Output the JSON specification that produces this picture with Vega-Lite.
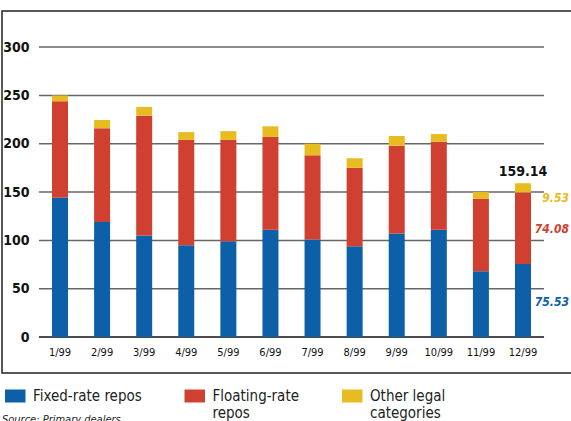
{
  "$schema": "https://vega.github.io/schema/vega-lite/v6.json",
  "width": 579,
  "height": 362,
  "autosize": {"type": "none"},
  "padding": {"left": 2, "top": 11, "right": 0, "bottom": 48},
  "background": "white",
  "config": {
    "view": {"stroke": "#222", "strokeWidth": 1.5},
    "font": "Liberation Sans Narrow, DejaVu Sans Condensed, Roboto Condensed, sans-serif"
  },
  "title": {
    "text": "Source: Primary dealers",
    "orient": "bottom",
    "anchor": "start",
    "frame": "group",
    "offset": 0,
    "dy": -7,
    "fontSize": 11,
    "fontStyle": "italic",
    "fontWeight": "normal",
    "color": "#222",
    "baseline": "top"
  },
  "datasets": {
    "repos": [
      {"month": "1/99", "series": "Fixed-rate repos", "value": 144},
      {"month": "1/99", "series": "Floating-rate repos", "value": 100},
      {"month": "1/99", "series": "Other legal categories", "value": 6},
      {"month": "2/99", "series": "Fixed-rate repos", "value": 119},
      {"month": "2/99", "series": "Floating-rate repos", "value": 97},
      {"month": "2/99", "series": "Other legal categories", "value": 8.5},
      {"month": "3/99", "series": "Fixed-rate repos", "value": 105},
      {"month": "3/99", "series": "Floating-rate repos", "value": 124},
      {"month": "3/99", "series": "Other legal categories", "value": 9},
      {"month": "4/99", "series": "Fixed-rate repos", "value": 95},
      {"month": "4/99", "series": "Floating-rate repos", "value": 109},
      {"month": "4/99", "series": "Other legal categories", "value": 8},
      {"month": "5/99", "series": "Fixed-rate repos", "value": 99},
      {"month": "5/99", "series": "Floating-rate repos", "value": 105},
      {"month": "5/99", "series": "Other legal categories", "value": 9},
      {"month": "6/99", "series": "Fixed-rate repos", "value": 111},
      {"month": "6/99", "series": "Floating-rate repos", "value": 96},
      {"month": "6/99", "series": "Other legal categories", "value": 11},
      {"month": "7/99", "series": "Fixed-rate repos", "value": 101},
      {"month": "7/99", "series": "Floating-rate repos", "value": 87},
      {"month": "7/99", "series": "Other legal categories", "value": 12},
      {"month": "8/99", "series": "Fixed-rate repos", "value": 94},
      {"month": "8/99", "series": "Floating-rate repos", "value": 81},
      {"month": "8/99", "series": "Other legal categories", "value": 10},
      {"month": "9/99", "series": "Fixed-rate repos", "value": 107},
      {"month": "9/99", "series": "Floating-rate repos", "value": 91},
      {"month": "9/99", "series": "Other legal categories", "value": 10},
      {"month": "10/99", "series": "Fixed-rate repos", "value": 111},
      {"month": "10/99", "series": "Floating-rate repos", "value": 91},
      {"month": "10/99", "series": "Other legal categories", "value": 8},
      {"month": "11/99", "series": "Fixed-rate repos", "value": 68},
      {"month": "11/99", "series": "Floating-rate repos", "value": 75},
      {"month": "11/99", "series": "Other legal categories", "value": 7},
      {"month": "12/99", "series": "Fixed-rate repos", "value": 75.53},
      {"month": "12/99", "series": "Floating-rate repos", "value": 74.08},
      {"month": "12/99", "series": "Other legal categories", "value": 9.53}
    ],
    "grid": [{"v": 0}, {"v": 50}, {"v": 100}, {"v": 150}, {"v": 200}, {"v": 250}, {"v": 300}]
  },
  "layer": [
    {
      "data": {"name": "grid"},
      "mark": {"type": "rule", "strokeWidth": 1.5},
      "encoding": {
        "y": {
          "field": "v",
          "type": "quantitative",
          "scale": {"domain": [-37.2, 337.3], "nice": false, "zero": false},
          "axis": {
            "orient": "left",
            "offset": -34,
            "values": [0, 50, 100, 150, 200, 250, 300],
            "domain": false,
            "ticks": false,
            "grid": false,
            "labelPadding": 7,
            "labelFontWeight": "bold",
            "labelFontSize": 14,
            "labelColor": "#111",
            "title": null
          }
        },
        "x": {
          "datum": "1/99",
          "type": "nominal",
          "bandPosition": 0,
          "scale": {
            "domain": ["1/99", "2/99", "3/99", "4/99", "5/99", "6/99", "7/99", "8/99", "9/99", "10/99", "11/99", "12/99"],
            "paddingInner": 0,
            "paddingOuter": 0.878
          },
          "axis": {
            "orient": "bottom",
            "offset": -36,
            "domain": false,
            "ticks": false,
            "grid": false,
            "labelPadding": 9,
            "labelFontSize": 11,
            "labelAngle": 0,
            "labelColor": "#111",
            "title": null
          }
        },
        "x2": {"datum": "12/99", "bandPosition": 1},
        "color": {"condition": {"test": "datum.v === 0", "value": "#111"}, "value": "#666"}
      }
    },
    {
      "data": {"name": "repos"},
      "mark": {"type": "bar", "width": {"band": 0.38}},
      "encoding": {
        "x": {"field": "month", "type": "nominal"},
        "y": {"aggregate": "sum", "field": "value", "type": "quantitative", "stack": "zero"},
        "order": {"field": "series", "sort": "ascending"},
        "color": {
          "field": "series",
          "type": "nominal",
          "scale": {
            "domain": ["Fixed-rate repos", "Floating-rate repos", "Other legal categories"],
            "range": ["#0d60a8", "#d04030", "#e8bc20"]
          },
          "legend": {
            "orient": "none",
            "legendX": 3,
            "legendY": 375,
            "direction": "horizontal",
            "columns": 3,
            "title": null,
            "symbolType": "M-1,-0.65H1.05V0.65H-1Z",
            "symbolSize": 400,
            "symbolStrokeWidth": 0,
            "symbolOpacity": 1,
            "labelFontSize": 15,
            "labelColor": "#222",
            "labelOffset": 8,
            "labelLimit": 300,
            "columnPadding": 42.5,
            "labelExpr": "datum.label == 'Floating-rate repos' ? ['Floating-rate', 'repos'] : datum.label == 'Other legal categories' ? ['Other legal', 'categories'] : [datum.label, '']"
          }
        }
      }
    },
    {
      "data": {"name": "repos"},
      "transform": [{"filter": "datum.month == '12/99'"}],
      "mark": {"type": "text", "baseline": "bottom", "dy": -4, "fontWeight": "bold", "fontSize": 14, "color": "#111"},
      "encoding": {
        "x": {"field": "month", "type": "nominal"},
        "y": {"aggregate": "sum", "field": "value", "type": "quantitative"},
        "text": {"aggregate": "sum", "field": "value", "type": "quantitative", "format": ".2f"}
      }
    },
    {
      "data": {"name": "repos"},
      "transform": [
        {"filter": "datum.month == '12/99'"},
        {"stack": "value", "groupby": ["month"], "sort": [{"field": "series"}], "as": ["y0", "y1"]},
        {"calculate": "(datum.y0 + datum.y1) / 2", "as": "mid"},
        {"filter": "datum.series != 'Other legal categories'"}
      ],
      "mark": {"type": "text", "align": "right", "dx": 46, "dy": 1, "fontStyle": "italic", "fontWeight": 600, "fontSize": 12},
      "encoding": {
        "x": {"field": "month", "type": "nominal"},
        "y": {"field": "mid", "type": "quantitative"},
        "text": {"field": "value", "type": "quantitative", "format": ".2f"},
        "color": {"field": "series", "type": "nominal"}
      }
    },
    {
      "data": {"name": "repos"},
      "transform": [
        {"filter": "datum.month == '12/99'"},
        {"stack": "value", "groupby": ["month"], "sort": [{"field": "series"}], "as": ["y0", "y1"]},
        {"filter": "datum.series == 'Other legal categories'"}
      ],
      "mark": {"type": "text", "align": "right", "dx": 46, "dy": 6, "fontStyle": "italic", "fontWeight": 600, "fontSize": 12},
      "encoding": {
        "x": {"field": "month", "type": "nominal"},
        "y": {"field": "y0", "type": "quantitative"},
        "text": {"field": "value", "type": "quantitative", "format": ".2f"},
        "color": {"field": "series", "type": "nominal"}
      }
    }
  ]
}
